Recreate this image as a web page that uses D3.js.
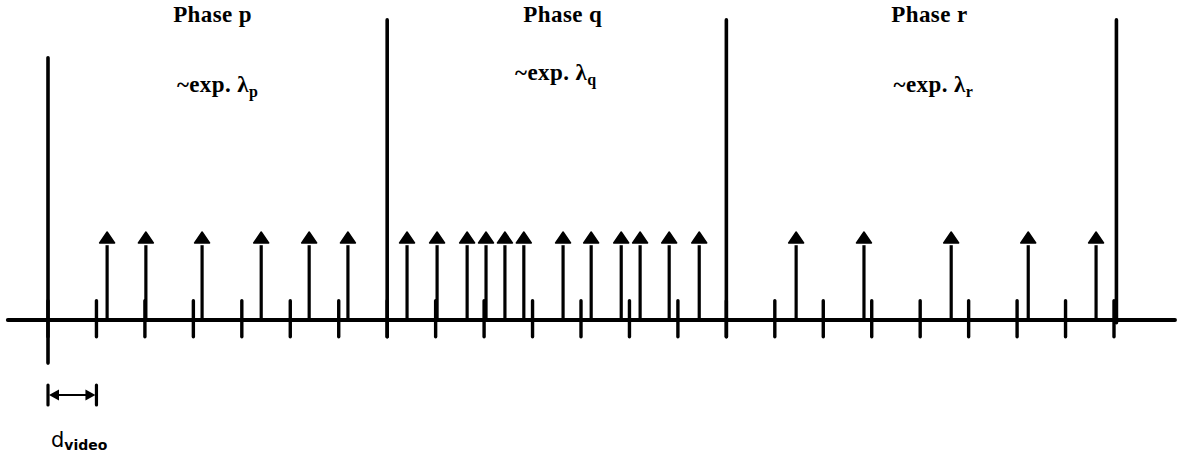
<!DOCTYPE html>
<html>
<head>
<meta charset="utf-8">
<script src="https://cdn.jsdelivr.net/npm/d3@7"></script>
<style>
  html, body { margin: 0; padding: 0; background: #fff; }
  svg { display: block; }
</style>
</head>
<body>
<svg id="chart" width="1184" height="460"></svg>
<script>
// ---- data (time in units of d_video) ----
const slotTicks = [0,1,2,3,4,5,6,7,8,9,10,11,12,13,14,15,16,17,18,19,20,21,22];
const phaseBoundaries = [0, 7, 14, 22.05];
const boundaryTop = [2.98, 3.41, 3.41, 3.41];
const boundaryBottom = [-0.49, -0.19, -0.19, -0.03];
const phaseNames = ["Phase p", "Phase q", "Phase r"];
const rateSubs = ["p", "q", "r"];
const arrivals = [1.22, 2.02, 3.18, 4.40, 5.39, 6.19,
                  7.41, 8.03, 8.65, 9.04, 9.43, 9.82, 10.63, 11.21, 11.83, 12.22, 12.82, 13.44,
                  15.44, 16.84, 18.64, 20.23, 21.63];
const axisExtent = [-0.83, 23.26];
const dLabelSpan = [0, 1];

// ---- layout ----
const svg = d3.select("#chart");
const x = d3.scaleLinear().domain([0, 22]).range([48, 1114]);
const y = d3.scaleLinear().domain([0, 1]).range([320, 232]);
const phaseLabelDx = [-5, 6, 8];
const expY = [92, 80, 92];
const expDx = [0, -1, 12];
const serif = "'Liberation Serif', 'Times New Roman', serif";
const stroke = "#000";

// axis line
svg.append("line")
  .attr("x1", x(axisExtent[0])).attr("x2", x(axisExtent[1]))
  .attr("y1", y(0)).attr("y2", y(0))
  .attr("stroke", stroke).attr("stroke-width", 3.8).attr("stroke-linecap", "round");

// slot ticks
svg.append("g").selectAll("line").data(slotTicks).join("line")
  .attr("x1", d => x(d)).attr("x2", d => x(d))
  .attr("y1", y(0.22)).attr("y2", y(-0.19))
  .attr("stroke", stroke).attr("stroke-width", 3.4).attr("stroke-linecap", "round");

// phase boundaries
svg.append("g").selectAll("line").data(phaseBoundaries).join("line")
  .attr("x1", d => x(d)).attr("x2", d => x(d))
  .attr("y1", (d, i) => y(boundaryTop[i])).attr("y2", (d, i) => y(boundaryBottom[i]))
  .attr("stroke", stroke).attr("stroke-width", 3.6).attr("stroke-linecap", "round");

// arrivals (arrows)
const arr = svg.append("g").selectAll("g").data(arrivals).join("g");
arr.append("line")
  .attr("x1", d => x(d)).attr("x2", d => x(d))
  .attr("y1", y(0)).attr("y2", y(0.85))
  .attr("stroke", stroke).attr("stroke-width", 3.2);
arr.append("path")
  .attr("d", d => {
    const cx = x(d), ty = y(1);
    return `M${cx},${ty} L${cx + 7.5},${ty + 11} L${cx - 7.5},${ty + 11} Z`;
  })
  .attr("fill", stroke).attr("stroke", stroke).attr("stroke-width", 1.5).attr("stroke-linejoin", "round");

// phase labels
const mids = phaseNames.map((n, i) => (phaseBoundaries[i] + phaseBoundaries[i + 1]) / 2);
svg.append("g").selectAll("text").data(phaseNames).join("text")
  .attr("x", (d, i) => x(mids[i]) + phaseLabelDx[i])
  .attr("y", 22)
  .attr("text-anchor", "middle")
  .attr("font-family", serif).attr("font-weight", "bold").attr("font-size", 23)
  .attr("letter-spacing", 0.4)
  .text(d => d);

const expT = svg.append("g").selectAll("text").data(rateSubs).join("text")
  .attr("x", (d, i) => x(mids[i]) + expDx[i])
  .attr("y", (d, i) => expY[i])
  .attr("text-anchor", "middle")
  .attr("font-family", serif).attr("font-weight", "bold").attr("font-size", 23)
  .attr("letter-spacing", 0.4);
expT.append("tspan").text("~exp. λ");
expT.append("tspan").attr("dy", 5).attr("font-size", 16).text(d => d);

// d_video marker
const dy = 395;
const g = svg.append("g");
dLabelSpan.forEach(v => {
  g.append("line").attr("x1", x(v)).attr("x2", x(v)).attr("y1", dy - 10).attr("y2", dy + 10)
    .attr("stroke", stroke).attr("stroke-width", 3.2).attr("stroke-linecap", "round");
});
g.append("line").attr("x1", x(dLabelSpan[0]) + 6).attr("x2", x(dLabelSpan[1]) - 6)
  .attr("y1", dy).attr("y2", dy).attr("stroke", stroke).attr("stroke-width", 2);
const xa = x(dLabelSpan[0]), xb = x(dLabelSpan[1]);
g.append("path").attr("d", `M${xa + 1},${dy} L${xa + 11},${dy - 5.5} L${xa + 11},${dy + 5.5} Z`).attr("fill", stroke);
g.append("path").attr("d", `M${xb - 1},${dy} L${xb - 11},${dy - 5.5} L${xb - 11},${dy + 5.5} Z`).attr("fill", stroke);
const dt = g.append("text").attr("x", xa + 3).attr("y", 447)
  .attr("font-family", "'DejaVu Sans', sans-serif").attr("font-size", 21);
dt.append("tspan").text("d");
dt.append("tspan").attr("dy", 3).attr("font-size", 14).attr("font-weight", "bold").text("video");
</script>
</body>
</html>
